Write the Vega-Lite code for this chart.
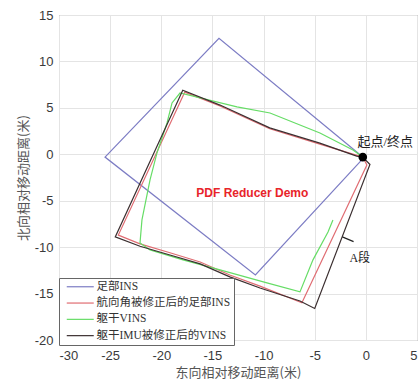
{
  "$schema": "https://vega.github.io/schema/vega-lite/v6.json",
  "width": 358,
  "height": 325,
  "autosize": {"type": "none"},
  "padding": {"left": 59, "top": 15, "right": 2, "bottom": 42},
  "background": "white",
  "config": {
    "view": {"stroke": "#7a7a7a", "strokeWidth": 1},
    "axis": {
      "domain": false,
      "ticks": false,
      "grid": true,
      "gridColor": "#e4e4e4",
      "labelFont": "Liberation Sans",
      "labelFontSize": 13,
      "labelColor": "#3a3a3a",
      "labelExpr": "toString(datum.value)",
      "titleFont": "Noto Sans CJK SC",
      "titleFontSize": 13,
      "titleFontWeight": "normal",
      "titleColor": "#555555"
    },
    "legend": {
      "orient": "none",
      "legendX": 0,
      "legendY": 263,
      "fillColor": "white",
      "strokeColor": "#666666",
      "padding": 3,
      "rowPadding": 3.3,
      "labelFont": "Liberation Serif, Noto Sans CJK SC",
      "labelFontSize": 11.5,
      "labelColor": "#333333",
      "labelOffset": 20,
      "symbolType": "M-1,0H5.75",
      "symbolSize": 64,
      "symbolStrokeWidth": 1.2,
      "symbolOffset": 3
    }
  },
  "layer": [
    {
      "data": {
        "values": [
          {"s": "足部INS", "i": 0, "x": -0.3, "y": -0.3},
          {"s": "足部INS", "i": 1, "x": -14.36, "y": 12.5},
          {"s": "足部INS", "i": 2, "x": -25.5, "y": -0.3},
          {"s": "足部INS", "i": 3, "x": -10.8, "y": -13.0},
          {"s": "足部INS", "i": 4, "x": -0.4, "y": -0.6},
          {"s": "航向角被修正后的足部INS", "i": 0, "x": -0.3, "y": -0.3},
          {"s": "航向角被修正后的足部INS", "i": 1, "x": 0.1, "y": -1.15},
          {"s": "航向角被修正后的足部INS", "i": 2, "x": -6.25, "y": -16.0},
          {"s": "航向角被修正后的足部INS", "i": 3, "x": -10.35, "y": -14.2},
          {"s": "航向角被修正后的足部INS", "i": 4, "x": -13.3, "y": -13.0},
          {"s": "航向角被修正后的足部INS", "i": 5, "x": -16.2, "y": -11.6},
          {"s": "航向角被修正后的足部INS", "i": 6, "x": -19.15, "y": -10.6},
          {"s": "航向角被修正后的足部INS", "i": 7, "x": -22.08, "y": -9.65},
          {"s": "航向角被修正后的足部INS", "i": 8, "x": -24.2, "y": -8.7},
          {"s": "航向角被修正后的足部INS", "i": 9, "x": -17.7, "y": 6.7},
          {"s": "航向角被修正后的足部INS", "i": 10, "x": -14.26, "y": 5.2},
          {"s": "航向角被修正后的足部INS", "i": 11, "x": -9.4, "y": 2.75},
          {"s": "航向角被修正后的足部INS", "i": 12, "x": -4.5, "y": 1.1},
          {"s": "航向角被修正后的足部INS", "i": 13, "x": -0.3, "y": -0.3},
          {"s": "躯干VINS", "i": 0, "x": -0.3, "y": -0.3},
          {"s": "躯干VINS", "i": 1, "x": -1.26, "y": 0.47},
          {"s": "躯干VINS", "i": 2, "x": -4.49, "y": 2.3},
          {"s": "躯干VINS", "i": 3, "x": -9.37, "y": 4.45},
          {"s": "躯干VINS", "i": 4, "x": -12.6, "y": 5.1},
          {"s": "躯干VINS", "i": 5, "x": -18.17, "y": 6.6},
          {"s": "躯干VINS", "i": 6, "x": -18.95, "y": 5.53},
          {"s": "躯干VINS", "i": 7, "x": -19.44, "y": 3.37},
          {"s": "躯干VINS", "i": 8, "x": -20.42, "y": 0.15},
          {"s": "躯干VINS", "i": 9, "x": -21.1, "y": -2.76},
          {"s": "躯干VINS", "i": 10, "x": -21.89, "y": -7.07},
          {"s": "躯干VINS", "i": 11, "x": -22.08, "y": -9.54},
          {"s": "躯干VINS", "i": 12, "x": -21.1, "y": -10.3},
          {"s": "躯干VINS", "i": 13, "x": -17.88, "y": -11.37},
          {"s": "躯干VINS", "i": 14, "x": -14.26, "y": -12.45},
          {"s": "躯干VINS", "i": 15, "x": -9.67, "y": -13.85},
          {"s": "躯干VINS", "i": 16, "x": -6.44, "y": -14.82},
          {"s": "躯干VINS", "i": 17, "x": -5.17, "y": -11.37},
          {"s": "躯干VINS", "i": 18, "x": -3.7, "y": -8.36},
          {"s": "躯干VINS", "i": 19, "x": -3.22, "y": -7.07},
          {"s": "躯干IMU被修正后的VINS", "i": 0, "x": -0.3, "y": -0.3},
          {"s": "躯干IMU被修正后的VINS", "i": 1, "x": 0.4, "y": -1.1},
          {"s": "躯干IMU被修正后的VINS", "i": 2, "x": -5.0, "y": -16.6},
          {"s": "躯干IMU被修正后的VINS", "i": 3, "x": -6.44, "y": -15.8},
          {"s": "躯干IMU被修正后的VINS", "i": 4, "x": -10.35, "y": -14.4},
          {"s": "躯干IMU被修正后的VINS", "i": 5, "x": -13.3, "y": -13.2},
          {"s": "躯干IMU被修正后的VINS", "i": 6, "x": -16.2, "y": -11.8},
          {"s": "躯干IMU被修正后的VINS", "i": 7, "x": -19.15, "y": -10.85},
          {"s": "躯干IMU被修正后的VINS", "i": 8, "x": -22.08, "y": -9.9},
          {"s": "躯干IMU被修正后的VINS", "i": 9, "x": -24.5, "y": -8.9},
          {"s": "躯干IMU被修正后的VINS", "i": 10, "x": -17.9, "y": 6.9},
          {"s": "躯干IMU被修正后的VINS", "i": 11, "x": -14.26, "y": 5.3},
          {"s": "躯干IMU被修正后的VINS", "i": 12, "x": -9.4, "y": 2.85},
          {"s": "躯干IMU被修正后的VINS", "i": 13, "x": -4.5, "y": 1.2},
          {"s": "躯干IMU被修正后的VINS", "i": 14, "x": -0.9, "y": -0.2},
          {"s": "躯干IMU被修正后的VINS", "i": 15, "x": -0.3, "y": -0.3}
        ]
      },
      "mark": {"type": "line", "strokeWidth": 1.2},
      "encoding": {
        "x": {"field": "x", "type": "quantitative", "scale": {"domain": [-30, 5], "nice": false}, "axis": {"values": [-30, -25, -20, -15, -10, -5, 0, 5], "labelPadding": 9, "title": "东向相对移动距离(米)", "titlePadding": 4}},
        "y": {"field": "y", "type": "quantitative", "scale": {"domain": [-20, 15], "nice": false}, "axis": {"values": [-20, -15, -10, -5, 0, 5, 10, 15], "labelPadding": 6, "title": "北向相对移动距离(米)", "titlePadding": 4}},
        "color": {"field": "s", "type": "nominal", "scale": {"domain": ["足部INS", "航向角被修正后的足部INS", "躯干VINS", "躯干IMU被修正后的VINS"], "range": ["#7c7cc4", "#e06c72", "#66dd66", "#3b2f30"]}, "legend": {"title": null}},
        "order": {"field": "i", "type": "quantitative"}
      }
    },
    {
      "data": {"values": [{"i": 0, "x": -2.3, "y": -8.9}, {"i": 1, "x": -1.2, "y": -9.4}]},
      "mark": {"type": "line", "color": "#222222", "strokeWidth": 1.2},
      "encoding": {
        "x": {"field": "x", "type": "quantitative"},
        "y": {"field": "y", "type": "quantitative"},
        "order": {"field": "i", "type": "quantitative"}
      }
    },
    {
      "data": {"values": [{"x": -0.3, "y": -0.3}]},
      "mark": {"type": "point", "filled": true, "color": "black", "size": 75, "opacity": 1},
      "encoding": {
        "x": {"field": "x", "type": "quantitative"},
        "y": {"field": "y", "type": "quantitative"}
      }
    },
    {
      "data": {"values": [
        {"x": 1.9, "y": 1.3, "t": "起点/终点", "z": 13},
        {"x": -0.6, "y": -11.2, "t": "A段", "z": 12}
      ]},
      "mark": {"type": "text", "align": "center", "baseline": "middle", "font": "Liberation Serif, Noto Sans CJK SC", "color": "#222222"},
      "encoding": {
        "x": {"field": "x", "type": "quantitative"},
        "y": {"field": "y", "type": "quantitative"},
        "text": {"field": "t"},
        "size": {"field": "z", "type": "quantitative", "scale": null}
      }
    },
    {
      "data": {"values": [{"x": -11.1, "y": -4.2, "t": "PDF Reducer Demo"}]},
      "mark": {"type": "text", "align": "center", "baseline": "middle", "font": "Liberation Sans", "fontWeight": "bold", "fontSize": 12, "color": "#e8242a"},
      "encoding": {
        "x": {"field": "x", "type": "quantitative"},
        "y": {"field": "y", "type": "quantitative"},
        "text": {"field": "t"}
      }
    }
  ]
}
